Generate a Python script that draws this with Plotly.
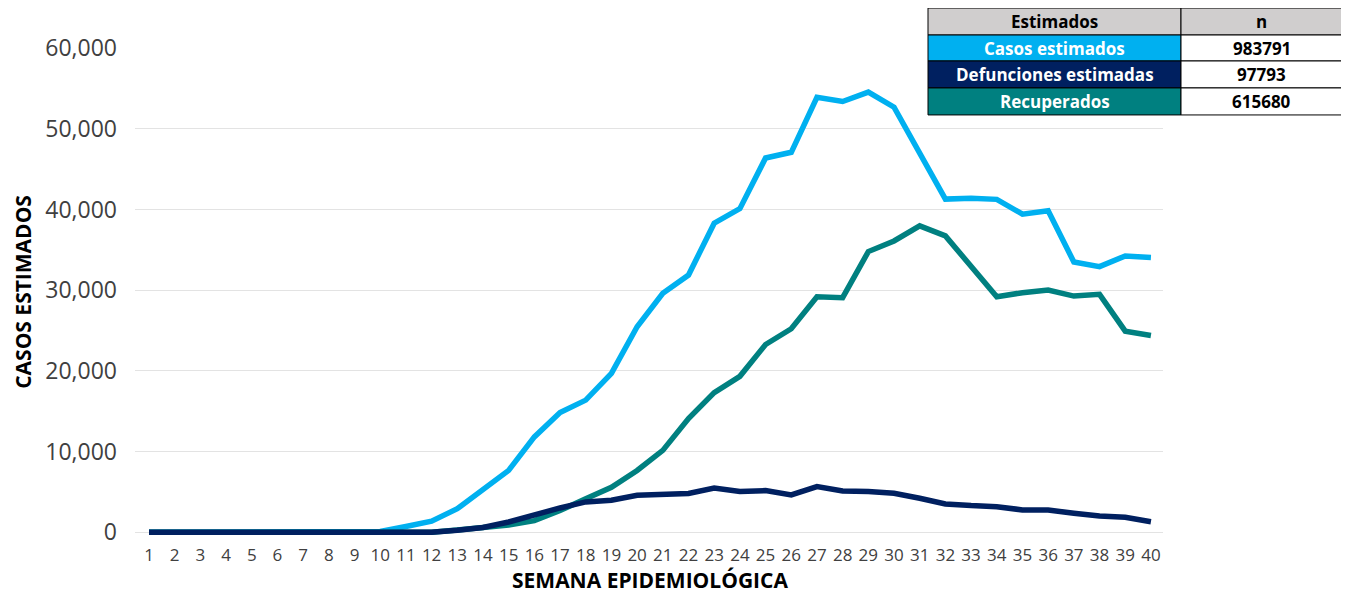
import plotly.graph_objects as go

weeks = list(range(1, 41))
tick_labels = [str(w) for w in weeks]

casos = [0, 0, 0, 0, 0, 0, 0, 0, 0, 100,
         720, 1380, 2920, 5400, 7680, 11820, 14850, 16380, 19690, 25470,
         29610, 31870, 38300, 40100, 46370, 47080, 53900, 53370, 54530, 52670,
         47000, 41280, 41400, 41250, 39420, 39830, 33490, 32920, 34240, 34040]

defunciones = [0, 0, 0, 0, 0, 0, 0, 0, 0, 0,
               0, 0, 250, 600, 1280, 2200, 3020, 3770, 3980, 4600,
               4690, 4810, 5490, 5050, 5170, 4630, 5670, 5130, 5050, 4840,
               4220, 3520, 3310, 3180, 2770, 2770, 2360, 2020, 1860, 1320]

recuperados = [0, 0, 0, 0, 0, 0, 0, 0, 0, 0,
               0, 0, 300, 620, 920, 1450, 2700, 4150, 5590, 7660,
               10150, 14090, 17300, 19330, 23270, 25220, 29190, 29070, 34780, 36100,
               37960, 36720, 33000, 29190, 29690, 30020, 29270, 29480, 24920, 24390]

series_names = ["Casos estimados", "Defunciones estimadas", "Recuperados"]
series_colors = ["#00B0F0", "#002060", "#008080"]

table_header = ["Estimados", "n"]
table_labels = ["Casos estimados", "Defunciones estimadas", "Recuperados"]
table_values = ["983791", "97793", "615680"]
table_fill = ["#00B0F0", "#002060", "#008080"]
header_fill = "#D0CECE"

FONT = "Open Sans"
OFF = 8  # default page body margin
W, H = 1349 - OFF, 595 - OFF
# plot area in page pixels: x 135..1163, y 48..540.4
L = 135 - OFF
T = 48 - OFF
R = W - (1163 - OFF)
B = H - (540.4 - OFF)
PW, PH = W - L - R, H - T - B


def px(x):
    return (x - OFF - L) / PW


def py(y):
    return (H - B - (y - OFF)) / PH


fig = go.Figure()

# draw order: casos, recuperados, defunciones
for name, vals, col in [(series_names[0], casos, series_colors[0]),
                        (series_names[2], recuperados, series_colors[2]),
                        (series_names[1], defunciones, series_colors[1])]:
    fig.add_trace(go.Scatter(x=weeks, y=vals, mode="lines", name=name,
                             line=dict(color=col, width=5.5), showlegend=False))

shapes = []
annotations = []

# table geometry (page pixels)
tx0, tx1, tx2 = 928, 1181, 1342
row_y = [8, 35, 61, 88, 115]

rows = [(table_header[0], table_header[1], header_fill, "#000000")]
for lab, val, fc in zip(table_labels, table_values, table_fill):
    rows.append((lab, val, fc, "#FFFFFF"))

for i, (lab, val, fc, tc) in enumerate(rows):
    y0, y1 = row_y[i], row_y[i + 1]
    shapes.append(dict(type="rect", xref="paper", yref="paper",
                       x0=px(tx0), x1=px(tx1), y0=py(y1), y1=py(y0),
                       fillcolor=fc, line=dict(color="#000000", width=1)))
    shapes.append(dict(type="rect", xref="paper", yref="paper",
                       x0=px(tx1), x1=px(tx2), y0=py(y1), y1=py(y0),
                       fillcolor=header_fill if i == 0 else "#FFFFFF",
                       line=dict(color="#000000", width=1)))
    annotations.append(dict(xref="paper", yref="paper", x=px((tx0 + tx1) / 2), y=py((y0 + y1) / 2),
                            text="<b>%s</b>" % lab, showarrow=False, xanchor="center", yanchor="middle",
                            font=dict(family=FONT, size=17, color=tc)))
    annotations.append(dict(xref="paper", yref="paper", x=px((tx1 + tx2) / 2), y=py((y0 + y1) / 2),
                            text="<b>%s</b>" % val, showarrow=False, xanchor="center", yanchor="middle",
                            font=dict(family=FONT, size=17, color="#000000")))

annotations.append(dict(xref="paper", yref="paper", x=px(23), y=py(292),
                        text="<b>CASOS ESTIMADOS</b>", showarrow=False, textangle=-90,
                        xanchor="center", yanchor="middle", borderpad=0,
                        font=dict(family=FONT, size=21, color="#000000")))
annotations.append(dict(xref="paper", yref="paper", x=px(650), y=py(580),
                        text="<b>SEMANA EPIDEMIOLÓGICA</b>", showarrow=False,
                        xanchor="center", yanchor="middle", borderpad=0,
                        font=dict(family=FONT, size=21, color="#000000")))

fig.update_layout(
    width=W, height=H,
    margin=dict(l=L, r=R, t=T, b=B),
    paper_bgcolor="#FFFFFF", plot_bgcolor="#FFFFFF",
    shapes=shapes, annotations=annotations,
    font=dict(family=FONT, color="#404040"),
    xaxis=dict(range=[0.455, 40.47], tickmode="array", tickvals=weeks, ticktext=tick_labels,
               showgrid=False, zeroline=False, showline=False, ticks="",
               tickfont=dict(family=FONT, size=17, color="#404040"), ticklabelstandoff=3),
    yaxis=dict(range=[-950, 60000], tickvals=[0, 10000, 20000, 30000, 40000, 50000, 60000],
               ticktext=["0", "10,000", "20,000", "30,000", "40,000", "50,000", "60,000"],
               showgrid=True, gridcolor="#E3E3E3", gridwidth=1, zeroline=False, showline=False,
               ticks="", tickfont=dict(family=FONT, size=23, color="#404040"), ticklabelstandoff=17),
)

fig.write_html("out.html")
